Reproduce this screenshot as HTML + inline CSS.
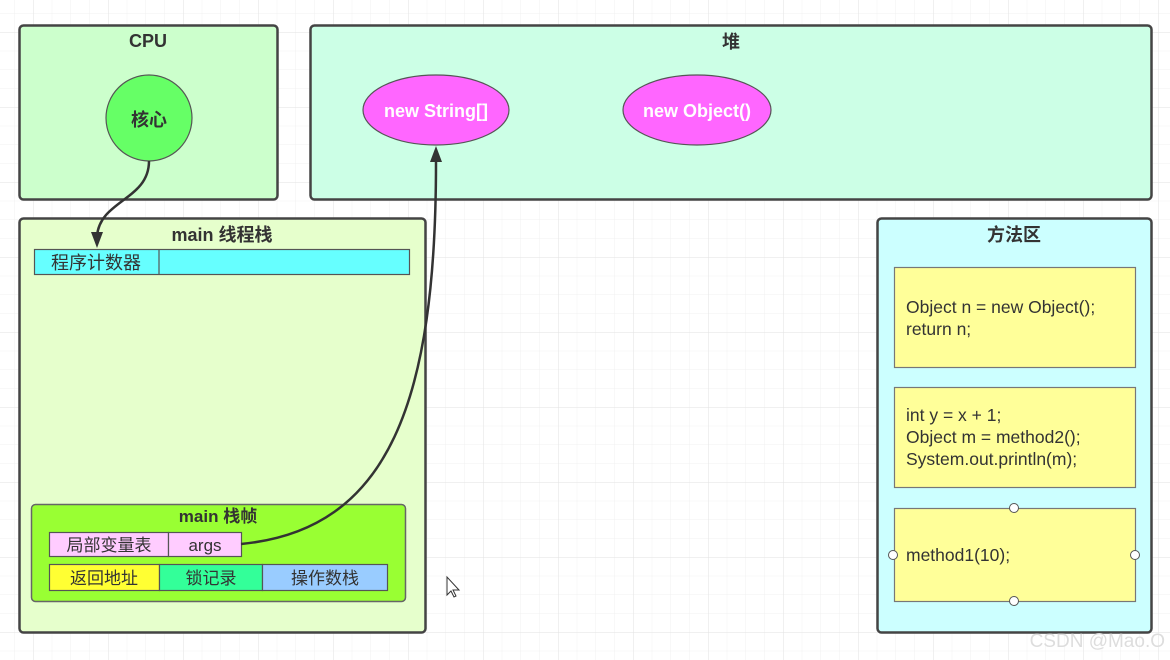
<!DOCTYPE html>
<html><head><meta charset="utf-8"><style>
html,body{margin:0;padding:0;background:#fff}
svg{display:block}
text{font-family:"Liberation Sans","Noto Sans CJK SC",sans-serif}
</style></head><body>
<svg width="1170" height="660" viewBox="0 0 1170 660" xmlns="http://www.w3.org/2000/svg">
<defs>
<pattern id="minor" x="14.25" y="13.25" width="18.75" height="18.75" patternUnits="userSpaceOnUse">
<path d="M0 0H18.75M0 0V18.75" stroke="#f0f0f0" stroke-width="1" fill="none"/>
</pattern>
<pattern id="major" x="33" y="32" width="75" height="75" patternUnits="userSpaceOnUse">
<path d="M0 0H75M0 0V75" stroke="#e2e2e2" stroke-width="1" fill="none"/>
</pattern>
<marker id="ah" markerWidth="10" markerHeight="12" refX="5" refY="11" orient="auto-start-reverse" markerUnits="userSpaceOnUse">
</marker>
</defs>
<rect width="1170" height="660" fill="url(#minor)"/>
<rect width="1170" height="660" fill="url(#major)"/>

<!-- CPU -->
<rect x="19.5" y="25.5" width="258" height="174" rx="4" fill="#ccffcc" stroke="#444" stroke-width="2.5"/>
<text x="148" y="47" font-size="18" font-weight="bold" text-anchor="middle" fill="#333">CPU</text>
<circle cx="149" cy="118" r="43" fill="#66ff66" stroke="#555" stroke-width="1.2"/>
<text x="149" y="126" font-size="18" font-weight="bold" text-anchor="middle" fill="#333">核心</text>

<!-- Heap -->
<rect x="310.5" y="25.5" width="841" height="174" rx="4" fill="#ccffe6" stroke="#444" stroke-width="2.5"/>
<text x="731" y="48" font-size="18" font-weight="bold" text-anchor="middle" fill="#333">堆</text>
<ellipse cx="436" cy="110" rx="73" ry="35" fill="#ff66ff" stroke="#555" stroke-width="1.2"/>
<text x="436" y="117" font-size="18" font-weight="bold" text-anchor="middle" fill="#fff">new String[]</text>
<ellipse cx="697" cy="110" rx="74" ry="35" fill="#ff66ff" stroke="#555" stroke-width="1.2"/>
<text x="697" y="117" font-size="18" font-weight="bold" text-anchor="middle" fill="#fff">new Object()</text>

<!-- main thread stack -->
<rect x="19.5" y="218.5" width="406" height="414" rx="4" fill="#e6ffcc" stroke="#444" stroke-width="2.5"/>
<text x="222" y="241" font-size="18" font-weight="bold" text-anchor="middle" fill="#333">main 线程栈</text>
<rect x="34.5" y="249.5" width="375" height="25" fill="#66ffff" stroke="#555" stroke-width="1.2"/>
<line x1="159" y1="249.5" x2="159" y2="274.5" stroke="#555" stroke-width="1.2"/>
<text x="96" y="269" font-size="18" text-anchor="middle" fill="#333">程序计数器</text>

<!-- main frame -->
<rect x="31.5" y="504.5" width="374" height="97" rx="4" fill="#99ff33" stroke="#666" stroke-width="1.5"/>
<text x="218" y="522" font-size="17" font-weight="bold" text-anchor="middle" fill="#333">main 栈帧</text>
<rect x="49.5" y="532.5" width="119" height="24" fill="#ffccff" stroke="#555" stroke-width="1.2"/>
<text x="109" y="551" font-size="17" text-anchor="middle" fill="#333">局部变量表</text>
<rect x="168.5" y="532.5" width="73" height="24" fill="#ffccff" stroke="#555" stroke-width="1.2"/>
<text x="205" y="551" font-size="17" text-anchor="middle" fill="#333">args</text>
<rect x="49.5" y="564.5" width="110" height="26" fill="#ffff33" stroke="#555" stroke-width="1.2"/>
<text x="104" y="584" font-size="17" text-anchor="middle" fill="#333">返回地址</text>
<rect x="159.5" y="564.5" width="103" height="26" fill="#33ff99" stroke="#555" stroke-width="1.2"/>
<text x="211" y="584" font-size="17" text-anchor="middle" fill="#333">锁记录</text>
<rect x="262.5" y="564.5" width="125" height="26" fill="#99ccff" stroke="#555" stroke-width="1.2"/>
<text x="325" y="584" font-size="17" text-anchor="middle" fill="#333">操作数栈</text>

<!-- method area -->
<rect x="877.5" y="218.5" width="274" height="414" rx="4" fill="#ccffff" stroke="#444" stroke-width="2.5"/>
<text x="1014" y="241" font-size="18" font-weight="bold" text-anchor="middle" fill="#333">方法区</text>
<rect x="894.5" y="267.5" width="241" height="100" fill="#ffff99" stroke="#777" stroke-width="1.2"/>
<text font-size="17.5" fill="#333"><tspan x="906" y="313">Object n = new Object();</tspan><tspan x="906" y="335">return n;</tspan></text>
<rect x="894.5" y="387.5" width="241" height="100" fill="#ffff99" stroke="#777" stroke-width="1.2"/>
<text font-size="17.5" fill="#333"><tspan x="906" y="421">int y = x + 1;</tspan><tspan x="906" y="443">Object m = method2();</tspan><tspan x="906" y="465">System.out.println(m);</tspan></text>
<rect x="894.5" y="508.5" width="241" height="93" fill="#ffff99" stroke="#777" stroke-width="1.2"/>
<text x="906" y="561" font-size="17.5" fill="#333">method1(10);</text>
<g fill="#fff" stroke="#555" stroke-width="1">
<circle cx="1014" cy="508" r="4.5"/><circle cx="1014" cy="601" r="4.5"/>
<circle cx="893" cy="555" r="4.5"/><circle cx="1135" cy="555" r="4.5"/>
</g>

<!-- connectors -->
<path d="M149 161 C149 200 100 200 97 236" stroke="#333" stroke-width="2.5" fill="none"/>
<polygon points="91,232 103,232 97,248" fill="#333"/>
<path d="M241 544 C390 530 436 400 436 162" stroke="#333" stroke-width="2.5" fill="none"/>
<polygon points="430,162 442,162 436,146" fill="#333"/>

<text x="1165" y="647" font-size="19" text-anchor="end" fill="#ddd">CSDN @Mao.O</text>
<path d="M447 577 L447 595 L451 591 L454 597 L456 596 L453 590 L459 590 Z" fill="#fff" stroke="#333" stroke-width="1"/>
</svg>
</body></html>
